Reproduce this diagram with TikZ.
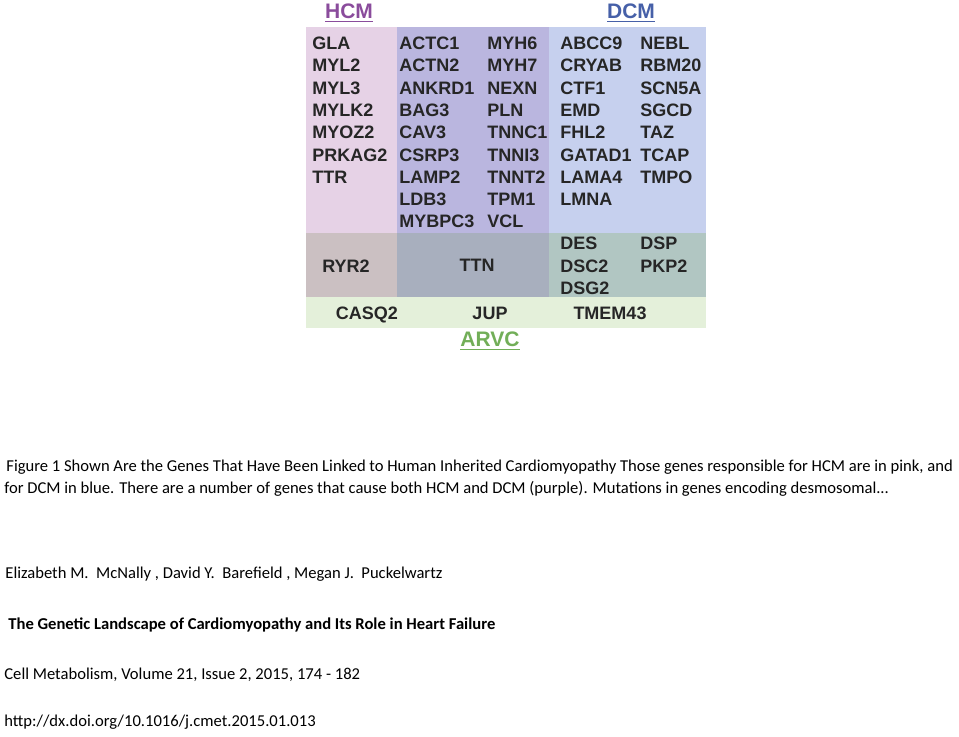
\documentclass[tikz,border=0pt]{standalone}
\usepackage{fontspec}
\setmainfont{Carlito}
\newfontfamily\genefont{Liberation Sans}

\definecolor{hcmpink}{HTML}{E6D2E6}
\definecolor{bothpurple}{HTML}{BAB6DF}
\definecolor{dcmblue}{HTML}{C6D0EE}
\definecolor{ryrgrey}{HTML}{CBC0C2}
\definecolor{ttngrey}{HTML}{A8AFBE}
\definecolor{desgreen}{HTML}{B1C6C2}
\definecolor{arvcrow}{HTML}{E4F0DA}
\definecolor{hcmtext}{HTML}{8A4C9C}
\definecolor{dcmtext}{HTML}{4660A8}
\definecolor{arvctext}{HTML}{72AE58}

\begin{document}
\begin{tikzpicture}[x=0.5pt,y=-0.5pt]
    \tikzset{gene/.style={font=\genefont\bfseries\fontsize{9}{10}\selectfont,anchor=base west,inner sep=0pt,text=black!85},
        midgene/.style={gene,anchor=base},
        head/.style={font=\genefont\bfseries\fontsize{10.5}{12}\selectfont,inner sep=0pt},
        caption/.style={font=\fontsize{8.3}{10}\selectfont,anchor=west,inner sep=0pt}}
    \useasboundingbox (0,0) rectangle (959,736);

    % coloured blocks
    \fill[hcmpink] (306,27) rectangle (397,233);
    \fill[bothpurple] (397,27) rectangle (549,233);
    \fill[dcmblue] (549,27) rectangle (706,233);
    \fill[ryrgrey] (306,233) rectangle (397,297);
    \fill[ttngrey] (397,233) rectangle (549,297);
    \fill[desgreen] (549,233) rectangle (706,297);
    \fill[arvcrow] (306,297) rectangle (706,328);

    % headings
    \node[head,text=hcmtext] (hcm) at (349,13) {\underline{HCM}};
    \node[head,text=dcmtext] (dcm) at (631,13) {\underline{DCM}};
    \node[head,text=arvctext] (arvc) at (490,341) {\underline{ARVC}};

    % gene columns
    \foreach \g [count=\i from 0] in {GLA,MYL2,MYL3,MYLK2,MYOZ2,PRKAG2,TTR}
        \node[gene] (hcm-\i) at (312,{49.5+22.3*\i}) {\g};
    \foreach \g [count=\i from 0] in {ACTC1,ACTN2,ANKRD1,BAG3,CAV3,CSRP3,LAMP2,LDB3,MYBPC3}
        \node[gene] (both-a-\i) at (399,{49.5+22.3*\i}) {\g};
    \foreach \g [count=\i from 0] in {MYH6,MYH7,NEXN,PLN,TNNC1,TNNI3,TNNT2,TPM1,VCL}
        \node[gene] (both-b-\i) at (487,{49.5+22.3*\i}) {\g};
    \foreach \g [count=\i from 0] in {ABCC9,CRYAB,CTF1,EMD,FHL2,GATAD1,LAMA4,LMNA}
        \node[gene] (dcm-a-\i) at (560,{49.5+22.3*\i}) {\g};
    \foreach \g [count=\i from 0] in {NEBL,RBM20,SCN5A,SGCD,TAZ,TCAP,TMPO}
        \node[gene] (dcm-b-\i) at (640,{49.5+22.3*\i}) {\g};

    % shared rows
    \node[midgene] (ryr2) at (346,272) {RYR2};
    \node[midgene] (ttn) at (477,271.5) {TTN};
    \foreach \g [count=\i from 0] in {DES,DSC2,DSG2}
        \node[gene] (arvc-a-\i) at (560,{249.5+22.5*\i}) {\g};
    \foreach \g [count=\i from 0] in {DSP,PKP2}
        \node[gene] (arvc-b-\i) at (640,{249.5+22.5*\i}) {\g};
    \node[midgene] (casq2) at (367,319.5) {CASQ2};
    \node[midgene] (jup) at (490,319.5) {JUP};
    \node[midgene] (tmem43) at (610,319.5) {TMEM43};

    % caption
    \node[caption] (cap-a) at (6,467) {Figure 1 Shown Are the Genes That Have Been Linked to Human Inherited Cardiomyopathy Those genes responsible for HCM are in pink, and};
    \node[caption] (cap-b) at (4,489) {for DCM in blue. There are a number of genes that cause both HCM and DCM (purple). Mutations in genes encoding desmosomal...};
    \node[caption] (authors) at (5,574) {Elizabeth M.\ \ McNally , David Y.\ \ Barefield , Megan J.\ \ Puckelwartz};
    \node[caption,font=\fontsize{8.3}{10}\selectfont\bfseries] (title) at (8,625) {The Genetic Landscape of Cardiomyopathy and Its Role in Heart Failure};
    \node[caption] (journal) at (4,675) {Cell Metabolism, Volume 21, Issue 2, 2015, 174 - 182};
    \node[caption] (doi) at (4,722) {http://dx.doi.org/10.1016/j.cmet.2015.01.013};
\end{tikzpicture}
\end{document}
